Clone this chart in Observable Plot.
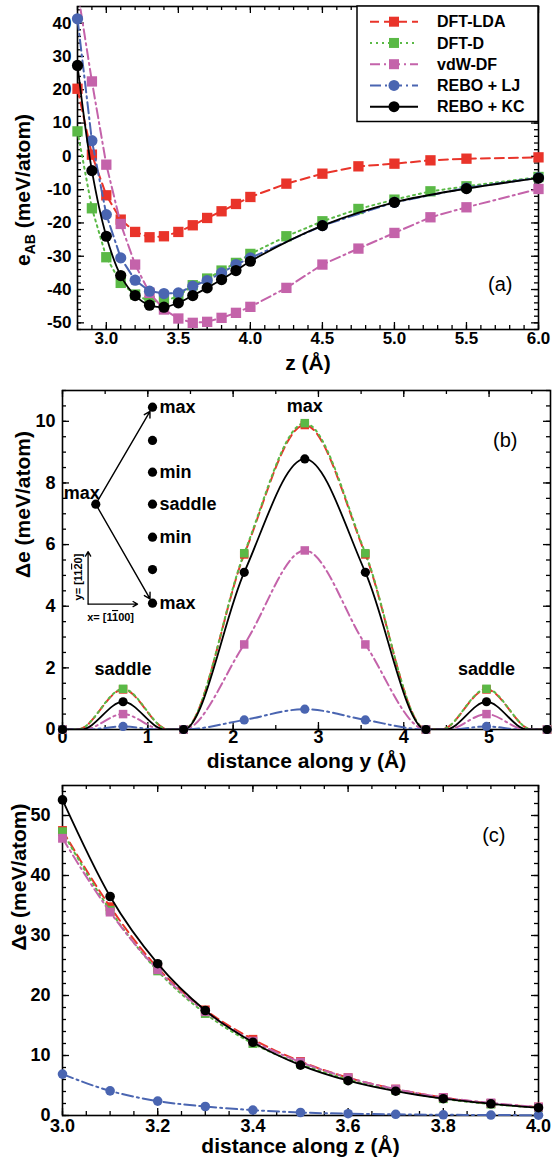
<!DOCTYPE html>
<html><head><meta charset="utf-8">
<script src="https://cdn.jsdelivr.net/npm/d3@7"></script>
<script src="https://cdn.jsdelivr.net/npm/@observablehq/plot@0.6"></script>
<style>
body{margin:0;background:#fff;width:560px;height:1165px;overflow:hidden}
#chart svg{display:block}
</style></head><body><div id="chart"></div>
<script>
const FONT = "'Liberation Sans', Arial, Helvetica, sans-serif";

// ---------- series ----------
const seriesNames  = ["DFT-LDA", "DFT-D", "vdW-DF", "REBO + LJ", "REBO + KC"];
const seriesColors = ["#e9342a", "#5ab946", "#c463aa", "#4a65b1", "#000000"];
const seriesDash   = ["9,5", "2,4", "10,4,2,4", "11,4,2,4", null];
const seriesMarker = ["square", "square", "square", "circle", "circle"];

// ---------- panel (a): e_AB vs z ----------
const zA      = [2.8, 2.9, 3.0, 3.1, 3.2, 3.3, 3.4, 3.5, 3.6, 3.7, 3.8, 3.9, 4.0, 4.25, 4.5, 4.75, 5.0, 5.25, 5.5, 6.0];
const zA_REBO = [2.8, 2.9, 3.0, 3.1, 3.2, 3.3, 3.4, 3.5, 3.6, 3.7, 3.8, 3.9, 4.0, 4.5, 5.0, 5.5, 6.0];
const eAB_LDA = [20.3, 0.5, -11.7, -19.0, -22.7, -24.3, -24.0, -22.7, -20.7, -18.5, -16.5, -14.3, -12.2, -8.2, -5.2, -3.0, -2.2, -1.2, -0.7, -0.3];
const eAB_D   = [7.5, -15.6, -30.3, -38.0, -41.5, -43.5, -43.5, -42.0, -38.7, -36.7, -34.3, -32.0, -29.3, -24.0, -19.5, -15.8, -13.0, -10.5, -9.0, -6.2];
const eAB_vdW = [50.0, 22.5, -2.5, -20.3, -32.5, -41.0, -46.0, -48.7, -50.0, -49.7, -48.5, -47.0, -45.2, -39.5, -32.5, -27.7, -23.0, -18.3, -15.3, -9.8];
const eAB_LJ  = [41.3, 4.7, -17.5, -30.5, -37.2, -40.5, -41.2, -41.0, -39.0, -37.3, -35.0, -32.5, -30.5, -20.8, -13.8, -9.5, -6.4];
const eAB_KC  = [27.3, -4.3, -24.0, -35.8, -41.8, -44.7, -45.3, -44.0, -41.8, -39.5, -37.0, -34.3, -31.5, -20.8, -13.8, -9.7, -6.5];
const xTicksA = [3.0, 3.5, 4.0, 4.5, 5.0, 5.5, 6.0];
const yTicksA = [-50, -40, -30, -20, -10, 0, 10, 20, 30, 40];

// ---------- panel (b): sliding along y ----------
const yPosB   = [0, 0.71, 1.42, 2.13, 2.84, 3.55, 4.26, 4.97, 5.68];
const dEy_LDA = [0, 1.30, 0, 5.68, 9.88, 5.68, 0, 1.30, 0];
const dEy_D   = [0, 1.32, 0, 5.72, 9.94, 5.72, 0, 1.32, 0];
const dEy_vdW = [0, 0.50, 0, 2.76, 5.81, 2.76, 0, 0.50, 0];
const dEy_LJ  = [0, 0.10, 0, 0.31, 0.66, 0.31, 0, 0.10, 0];
const dEy_KC  = [0, 0.90, 0, 5.10, 8.78, 5.10, 0, 0.90, 0];
// where each fitted curve touches zero
const zeroB_LDA = [0.18, 1.24, 4.44, 5.50];
const zeroB_D   = [0.18, 1.24, 4.44, 5.50];
const zeroB_vdW = [0.25, 1.17, 4.51, 5.43];
const zeroB_LJ  = [0.30, 1.12, 4.56, 5.38];
const zeroB_KC  = [0.22, 1.20, 4.49, 5.45];
const xTicksB = [0, 1, 2, 3, 4, 5];
const yTicksB = [0, 2, 4, 6, 8, 10];
const insetNodes  = [{x: 1.055, y: 10.46, label: "max"}, {x: 1.055, y: 9.38, label: ""}, {x: 1.055, y: 8.35, label: "min"},
                     {x: 1.055, y: 7.31, label: "saddle"}, {x: 1.055, y: 6.24, label: "min"}, {x: 1.055, y: 5.19, label: ""},
                     {x: 1.055, y: 4.10, label: "max"}];
const insetOrigin = {x: 0.39, y: 7.31, label: "max"};
const peakLabels  = [{x: 2.84, y: 10.5, label: "max"}, {x: 0.71, y: 1.97, label: "saddle"}, {x: 4.97, y: 1.97, label: "saddle"}];

// ---------- panel (c): sliding along z ----------
const zC      = [3.0, 3.1, 3.2, 3.3, 3.4, 3.5, 3.6, 3.7, 3.8, 3.9, 4.0];
const dEz_LDA = [47.5, 34.8, 24.6, 17.6, 12.7, 9.0, 6.3, 4.4, 3.0, 2.0, 1.4];
const dEz_D   = [47.3, 34.2, 24.1, 17.0, 12.0, 8.6, 6.0, 4.2, 2.8, 1.9, 1.3];
const dEz_vdW = [46.2, 33.9, 24.3, 17.3, 12.4, 8.9, 6.3, 4.4, 3.0, 2.1, 1.4];
const dEz_LJ  = [6.9, 4.1, 2.4, 1.5, 0.9, 0.5, 0.3, 0.2, 0.12, 0.08, 0.05];
const dEz_KC  = [52.6, 36.5, 25.3, 17.5, 12.2, 8.4, 5.8, 4.05, 2.8, 1.95, 1.3];
const xTicksC = [3.0, 3.2, 3.4, 3.6, 3.8, 4.0];
const yTicksC = [0, 10, 20, 30, 40, 50];

// ---------- helpers ----------
const rows = (xs, ys) => xs.map((x, i) => ({x, y: ys[i]}));
const plotStyle = {fontFamily: FONT, fontWeight: "bold", color: "black", background: "white", overflow: "visible"};

function boxTicks({xMajor, xMinor, yMajor, yMinor, H, W}) {
  const M = 7, m = 4, sw = 1.3;
  return [
    Plot.ruleX(xMajor, {x: d => d, insetTop: H - M, strokeWidth: sw}),
    Plot.ruleX(xMajor, {x: d => d, insetBottom: H - M, strokeWidth: sw}),
    Plot.ruleX(xMinor, {x: d => d, insetTop: H - m, strokeWidth: sw}),
    Plot.ruleX(xMinor, {x: d => d, insetBottom: H - m, strokeWidth: sw}),
    Plot.ruleY(yMajor, {y: d => d, insetRight: W - M, strokeWidth: sw}),
    Plot.ruleY(yMajor, {y: d => d, insetLeft: W - M, strokeWidth: sw}),
    Plot.ruleY(yMinor, {y: d => d, insetRight: W - m, strokeWidth: sw}),
    Plot.ruleY(yMinor, {y: d => d, insetLeft: W - m, strokeWidth: sw}),
    Plot.frame({stroke: "black", strokeWidth: 1.6})
  ];
}
function tickLabels({xMajor, yMajor, xFmt, yFmt, xdy, ydx, fs}) {
  return [
    Plot.text(xMajor, {x: d => d, text: xFmt, frameAnchor: "bottom", dy: xdy, fontSize: fs, fontWeight: "bold"}),
    Plot.text(yMajor, {y: d => d, text: yFmt, frameAnchor: "left", dx: ydx, textAnchor: "end", fontSize: fs, fontWeight: "bold"})
  ];
}
function seriesMarks(lineData, {curve, r, clip, yMax}) {
  const out = [];
  lineData.forEach((ld, i) => {
    out.push(Plot.line(ld, {x: "x", y: "y", stroke: seriesColors[i], strokeWidth: i === 4 ? 1.8 : 2,
      strokeDasharray: seriesDash[i] || undefined, curve: typeof curve === "function" ? curve(i) : curve, clip}));
    out.push(Plot.dot(ld.filter(d => yMax === undefined || d.y <= yMax), {x: "x", y: "y", symbol: seriesMarker[i],
      fill: seriesColors[i], r: seriesMarker[i] === "square" ? r * 1.04 : r}));
  });
  return out;
}

const chart = document.getElementById("chart");

// ================= panel (a) =================
{
  const H = 323, W = 461;
  const dataA = [rows(zA, eAB_LDA), rows(zA, eAB_D), rows(zA, eAB_vdW), rows(zA_REBO, eAB_LJ), rows(zA_REBO, eAB_KC)];
  const svg = Plot.plot({
    width: 560, height: 380, marginLeft: 77, marginRight: 22, marginTop: 6, marginBottom: 51,
    x: {domain: [2.8, 6.0], axis: null}, y: {domain: [-52, 45], axis: null},
    style: plotStyle,
    marks: [
      ...boxTicks({xMajor: xTicksA, xMinor: d3.range(28, 61).map(i => i / 10), yMajor: yTicksA,
                   yMinor: d3.range(-52, 45, 2), H, W}),
      ...tickLabels({xMajor: xTicksA, yMajor: yTicksA, xFmt: d3.format(".1f"), yFmt: d => String(d), xdy: 14, ydx: -6, fs: 17}),
      Plot.text(["z (Å)"], {frameAnchor: "bottom", dy: 40, fontSize: 21, fontWeight: "bold"}),
      Plot.text(["(a)"], {frameAnchor: "bottom-right", dx: -26, dy: -39, textAnchor: "end", fontSize: 20, fontWeight: "normal"}),
      ...seriesMarks(dataA, {curve: i => (i === 4 ? "catmull-rom" : "linear"), r: 5.6, clip: true, yMax: 45})
    ]
  });
  chart.append(svg);
  const s = d3.select(svg);
  const t = s.append("text").attr("transform", "translate(30,190) rotate(-90)").attr("text-anchor", "middle")
    .attr("font-size", 21).attr("font-weight", "bold").attr("font-family", FONT);
  t.append("tspan").text("e");
  t.append("tspan").attr("font-size", 14).attr("dy", 5).text("AB");
  t.append("tspan").attr("dy", -5).text(" (meV/atom)");
  // legend
  const lg = s.append("g").attr("font-family", FONT).attr("font-weight", "bold").attr("font-size", 16)
    .attr("text-anchor", "start");
  lg.append("rect").attr("x", 357).attr("y", 6).attr("width", 181).attr("height", 115.5)
    .attr("fill", "white").attr("stroke", "black").attr("stroke-width", 1.5);
  seriesNames.forEach((name, i) => {
    const y = 21.7 + i * 21.25;
    lg.append("line").attr("x1", 370).attr("x2", 418).attr("y1", y).attr("y2", y)
      .attr("stroke", seriesColors[i]).attr("stroke-width", 2).attr("stroke-dasharray", seriesDash[i]);
    const sym = seriesMarker[i] === "square" ? d3.symbolSquare : d3.symbolCircle;
    lg.append("path").attr("d", d3.symbol(sym, seriesMarker[i] === "square" ? 100 : 95)())
      .attr("transform", `translate(394,${y})`).attr("fill", seriesColors[i]);
    lg.append("text").attr("x", 437).attr("y", y).attr("dy", "0.36em").attr("text-anchor", "start").text(name);
  });
}

// ================= panel (b) =================
{
  const H = 339, W = 488;
  const pts = [dEy_LDA, dEy_D, dEy_vdW, dEy_LJ, dEy_KC].map(v => rows(yPosB, v));
  const zeros = [zeroB_LDA, zeroB_D, zeroB_vdW, zeroB_LJ, zeroB_KC];
  const curves = pts.map((p, i) => [...p, ...zeros[i].map(x => ({x, y: 0}))].sort((a, b) => a.x - b.x));
  const series = [];
  curves.forEach((c, i) => {
    series.push(Plot.line(c, {x: "x", y: "y", stroke: seriesColors[i], strokeWidth: i === 4 ? 1.8 : 2,
      strokeDasharray: seriesDash[i] || undefined, curve: "monotone-x", clip: true}));
  });
  pts.forEach((p, i) => {
    series.push(Plot.dot(p, {x: "x", y: "y", symbol: seriesMarker[i], fill: seriesColors[i],
      r: seriesMarker[i] === "square" ? 4.8 : 4.6}));
  });
  const svg = Plot.plot({
    width: 560, height: 396, marginLeft: 62, marginRight: 10, marginTop: 10, marginBottom: 47,
    x: {domain: [0, 5.72], axis: null}, y: {domain: [0, 11], axis: null},
    style: plotStyle,
    marks: [
      ...boxTicks({xMajor: xTicksB, xMinor: d3.range(0, 12).map(i => i / 2), yMajor: yTicksB,
                   yMinor: d3.range(0, 23).map(i => i / 2), H, W}),
      ...tickLabels({xMajor: xTicksB, yMajor: yTicksB, xFmt: d => String(d), yFmt: d => String(d), xdy: 13, ydx: -7, fs: 18}),
      Plot.text(["distance along y (Å)"], {frameAnchor: "bottom", dy: 38, fontSize: 21, fontWeight: "bold"}),
      Plot.text(["Δe (meV/atom)"], {frameAnchor: "left", dx: -39, dy: 18, rotate: -90, fontSize: 21, fontWeight: "bold"}),
      Plot.text(["(b)"], {frameAnchor: "top-right", dx: -33, dy: 42, textAnchor: "end", fontSize: 20, fontWeight: "normal"}),
      // inset: high-symmetry path
      Plot.arrow(insetNodes.filter((d, i) => i === 0 || i === 6), {x1: () => insetOrigin.x, y1: () => insetOrigin.y, x2: "x", y2: "y",
        stroke: "black", strokeWidth: 1.4, headLength: 7, insetEnd: 5}),
      Plot.dot([...insetNodes, insetOrigin], {x: "x", y: "y", r: 4.6, fill: "black"}),
      Plot.text(insetNodes, {x: "x", y: "y", text: "label", dx: 7, textAnchor: "start", fontSize: 18, fontWeight: "bold"}),
      Plot.text([insetOrigin], {x: "x", y: "y", text: "label", dx: -14, dy: -11, fontSize: 18, fontWeight: "bold"}),
      Plot.arrow([{x1: 0.30, y1: 4.07, x2: 0.30, y2: 5.77}, {x1: 0.30, y1: 4.07, x2: 0.88, y2: 4.07}],
        {x1: "x1", y1: "y1", x2: "x2", y2: "y2", stroke: "black", strokeWidth: 1.3, headLength: 6}),
      Plot.text(peakLabels, {x: "x", y: "y", text: "label", fontSize: 18, fontWeight: "bold"}),
      ...series
    ]
  });
  chart.append(svg);
  // inset direction labels with Miller-index overbars
  const sx = svg.scale("x"), sy = svg.scale("y");
  const s = d3.select(svg);
  const addMiller = (x, y, rot, pre, bar, post) => {
    const t = s.append("text").attr("font-family", FONT).attr("font-weight", "bold").attr("font-size", 11)
      .attr("text-anchor", "middle").attr("dy", "0.35em")
      .attr("transform", `translate(${sx.apply(x)},${sy.apply(y)}) rotate(${rot})`);
    t.append("tspan").text(pre);
    t.append("tspan").attr("text-decoration", "overline").style("text-decoration", "overline").text(bar);
    t.append("tspan").text(post);
  };
  addMiller(0.19, 4.93, -90, "y= [11", "2", "0]");
  addMiller(0.57, 3.63, 0, "x= [1", "1", "00]");
}

// ================= panel (c) =================
{
  const H = 330, W = 476;
  const pts = [dEz_LDA, dEz_D, dEz_vdW, dEz_LJ, dEz_KC].map(v => rows(zC, v));
  const svg = Plot.plot({
    width: 560, height: 389, marginLeft: 62, marginRight: 22, marginTop: 9, marginBottom: 50,
    x: {domain: [3.0, 4.0], axis: null}, y: {domain: [0, 55], axis: null},
    style: plotStyle,
    marks: [
      ...boxTicks({xMajor: xTicksC, xMinor: d3.range(60, 81).map(i => i / 20), yMajor: yTicksC,
                   yMinor: d3.range(0, 56, 2), H, W}),
      ...tickLabels({xMajor: xTicksC, yMajor: yTicksC, xFmt: d3.format(".1f"), yFmt: d => String(d), xdy: 16, ydx: -12, fs: 18}),
      Plot.text(["distance along z (Å)"], {frameAnchor: "bottom", dy: 37, fontSize: 21, fontWeight: "bold"}),
      Plot.text(["Δe (meV/atom)"], {frameAnchor: "left", dx: -43, rotate: -90, fontSize: 21, fontWeight: "bold"}),
      Plot.text(["(c)"], {frameAnchor: "top-right", dx: -33, dy: 42, textAnchor: "end", fontSize: 20, fontWeight: "normal"}),
      ...seriesMarks(pts, {curve: "monotone-x", r: 4.8, clip: false})
    ]
  });
  chart.append(svg);
}
</script></body></html>
